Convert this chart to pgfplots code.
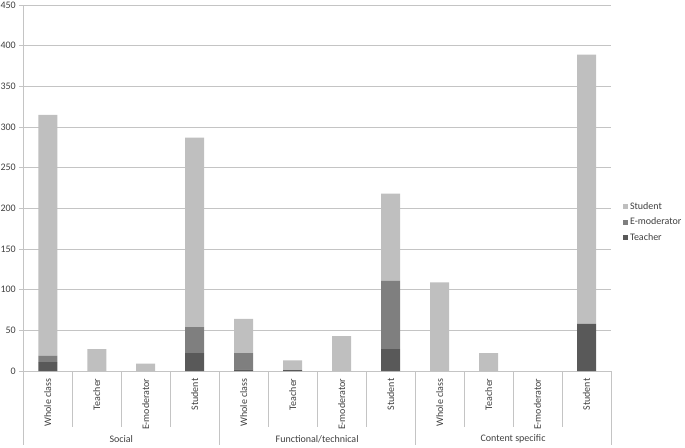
\documentclass[border=0pt]{standalone}
\usepackage{pgfplots}
\pgfplotsset{compat=1.18}
\usepackage{fontspec}
\setmainfont{Carlito}
\definecolor{cStudent}{HTML}{BFBFBF}
\definecolor{cEmod}{HTML}{7F7F7F}
\definecolor{cTeacher}{HTML}{595959}
\definecolor{txt}{HTML}{404040}
\definecolor{gridc}{HTML}{C4C4C4}
\begin{document}
\begin{tikzpicture}[x=1pt,y=1pt]
\path[use as bounding box] (-23.3,-76) rectangle (661.7,371);
\begin{axis}[
  at={(0,0)}, anchor=south west,
  scale only axis, width=587.7pt, height=366pt,
  xmin=-0.5, xmax=11.5, ymin=0, ymax=450,
  ybar stacked, bar width=19pt,
  clip=false,
  axis x line=bottom, axis y line=left,
  axis line style={-, gridc, line width=0.8pt},
  xtick={0,...,11},
  xticklabels={Whole class, Teacher, E-moderator, Student, Whole class, Teacher, E-moderator, Student, Whole class, Teacher, E-moderator, Student},
  xtick style={draw=none},
  xticklabel style={rotate=90, anchor=east, font=\fontsize{10}{12}\selectfont, text=txt},
  ytick={0,50,...,450},
  ytick style={gridc, line width=0.8pt},
  tick align=outside, major tick length=4pt,
  yticklabel style={font=\fontsize{10}{12}\selectfont, text=txt},
  /pgf/number format/assume math mode=true,
  ymajorgrids, major grid style={gridc, line width=0.8pt},
  legend style={at={(1.015,0.407)}, anchor=west, draw=none, fill=none,
    font=\fontsize{10}{12}\selectfont, text=txt, row sep=3pt},
  legend cell align=left,
  reverse legend,
  legend image code/.code={\fill[#1] (0pt,-2.5pt) rectangle (5pt,2.5pt);},
]
\addplot[fill=cTeacher, draw=none] coordinates {(0,11) (1,0) (2,0) (3,22) (4,2) (5,1) (6,0) (7,27) (8,0) (9,0) (10,0) (11,58)};
\addlegendentry{Teacher}
\addplot[fill=cEmod, draw=none] coordinates {(0,8) (1,0) (2,0) (3,32) (4,20) (5,0) (6,0) (7,84) (8,0) (9,0) (10,0) (11,0)};
\addlegendentry{E-moderator}
\addplot[fill=cStudent, draw=none] coordinates {(0,296) (1,27) (2,9) (3,233) (4,42) (5,12) (6,43) (7,107) (8,109) (9,22) (10,0) (11,331)};
\addlegendentry{Student}
\pgfplotsinvokeforeach{0.5,1.5,2.5,4.5,5.5,6.5,8.5,9.5,10.5}{
  \draw[gridc, line width=0.8pt] (axis cs:#1,0) -- ++(0pt,-56pt);
}
\pgfplotsinvokeforeach{-0.5,3.5,7.5,11.5}{
  \draw[gridc, line width=0.8pt] (axis cs:#1,0) -- ++(0pt,-74pt);
}
\node[text=txt, font=\fontsize{10}{12}\selectfont] at (axis cs:1.5,0) [yshift=-68pt] {Social};
\node[text=txt, font=\fontsize{10}{12}\selectfont] at (axis cs:5.5,0) [yshift=-68pt] {Functional/technical};
\node[text=txt, font=\fontsize{10}{12}\selectfont] at (axis cs:9.5,0) [yshift=-68pt] {Content specific};
\end{axis}
\end{tikzpicture}
\end{document}
